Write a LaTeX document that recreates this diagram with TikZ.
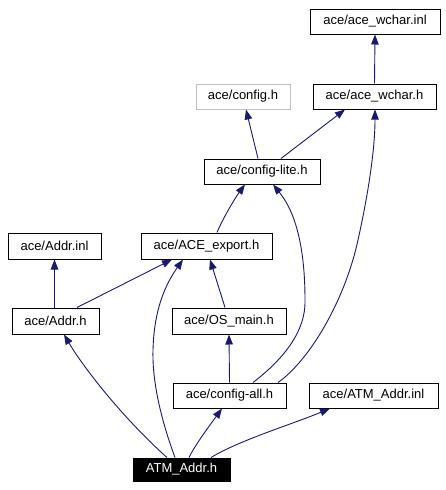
\documentclass[tikz,border=0pt]{standalone}
\usepackage{fontspec}
\setmainfont{Liberation Sans}
\usetikzlibrary{arrows.meta}
\definecolor{edgeblue}{HTML}{191970}
\definecolor{greyline}{HTML}{BFBFBF}
\tikzset{
  filebox/.style={draw=black, line width=1pt, fill=white, inner sep=0pt, font=\fontsize{13}{15}\selectfont},
  edge/.style={draw=edgeblue, line width=0.9pt, -{Triangle[length=10pt,width=7.5pt]}, fill=none},
}
\begin{document}
\begin{tikzpicture}[x=1pt,y=-1pt]
\useasboundingbox (0,0) rectangle (446,490);
\fill[white] (0,0) rectangle (446,490);
\node[filebox, minimum width=130pt, minimum height=25pt] (wcharinl) at (375,21.5) {ace/ace\_wchar.inl};
\node[filebox, draw=greyline, minimum width=94pt, minimum height=25pt] (config) at (243,96.5) {ace/config.h};
\node[filebox, minimum width=123pt, minimum height=25pt] (wcharh) at (374.5,96.5) {ace/ace\_wchar.h};
\node[filebox, minimum width=116pt, minimum height=25pt] (lite) at (262,171.5) {ace/config-lite.h};
\node[filebox, minimum width=93pt, minimum height=26pt] (addrinl) at (54.5,246) {ace/Addr.inl};
\node[filebox, minimum width=131pt, minimum height=26pt] (export) at (206.5,246) {ace/ACE\_export.h};
\node[filebox, minimum width=87pt, minimum height=26pt] (addrh) at (55.5,321) {ace/Addr.h};
\node[filebox, minimum width=114pt, minimum height=26pt] (osmain) at (229,321) {ace/OS\_main.h};
\node[filebox, minimum width=113pt, minimum height=25pt] (all) at (229.5,395.5) {ace/config-all.h};
\node[filebox, minimum width=129pt, minimum height=25pt] (atminl) at (373.5,395.5) {ace/ATM\_Addr.inl};
\node[filebox, fill=black, text=white, minimum width=97pt, minimum height=23pt] (atm) at (181.5,469.5) {ATM\_Addr.h};

\draw[edge] (wcharh.north) -- (wcharinl.south);
\draw[edge] ([xshift=-4pt]lite.north) -- ([xshift=3pt]config.south);
\draw[edge] ([xshift=19pt]lite.north) -- ([xshift=-29.5pt]wcharh.south);
\draw[edge] ([xshift=48.5pt]all.north) .. controls (310,360) and (345,300) .. (358,240) .. controls (368,195) and (375,150) .. ([xshift=0.5pt]wcharh.south);
\draw[edge] ([xshift=10.5pt]export.north) .. controls (222,220) and (235,198) .. ([xshift=-17pt]lite.south);
\draw[edge] ([xshift=23.5pt]all.north) .. controls (285,358) and (306,330) .. (305,300) .. controls (305,255) and (298,215) .. ([xshift=11pt]lite.south);
\draw[edge] (addrinl.south |- addrh.north) -- (addrinl.south);
\draw[edge] ([xshift=21.5pt]addrh.north) -- ([xshift=-34.5pt]export.south);
\draw[edge] ([xshift=-6.5pt]atm.north) .. controls (163,425) and (152,385) .. (153,350) .. controls (154,310) and (165,285) .. ([xshift=-23.5pt]export.south);
\draw[edge] ([xshift=-4pt]osmain.north) -- ([xshift=3.5pt]export.south);
\draw[edge] (all.north) -- (osmain.south);
\draw[edge] ([xshift=-14.5pt]atm.north) .. controls (125,420) and (85,370) .. ([xshift=8.5pt]addrh.south);
\draw[edge] ([xshift=7.5pt]atm.north) .. controls (195,445) and (210,425) .. ([xshift=-7.5pt]all.south);
\draw[edge] ([xshift=29.5pt]atm.north) .. controls (240,440) and (290,425) .. ([xshift=-43.5pt]atminl.south);
\end{tikzpicture}
\end{document}
